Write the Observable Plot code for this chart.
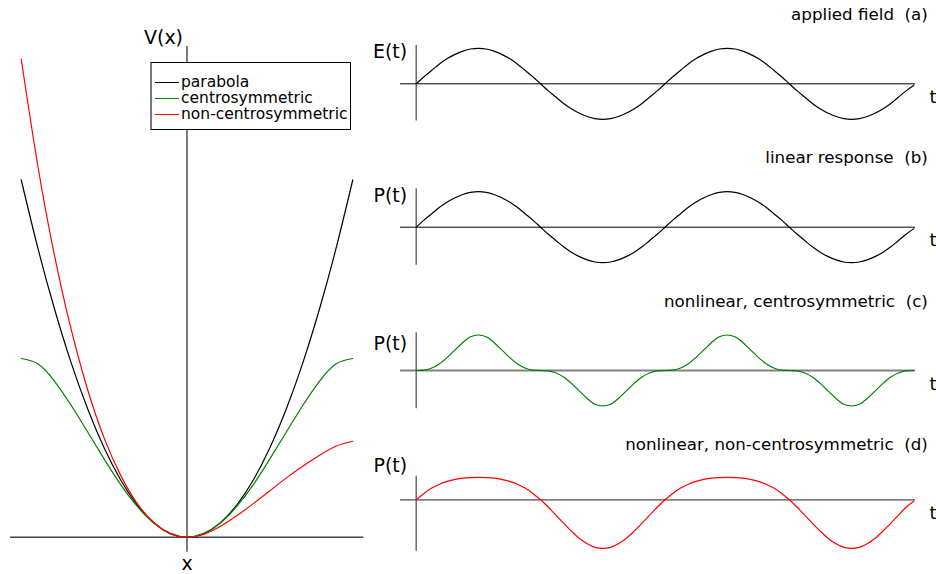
<!DOCTYPE html>
<html>
<head>
<meta charset="utf-8">
<script src="https://cdn.jsdelivr.net/npm/d3@7"></script>
<script src="https://cdn.jsdelivr.net/npm/@observablehq/plot@0.6"></script>
<style>
  html, body { margin: 0; padding: 0; background: #fff; }
  #wrap { position: relative; width: 936px; height: 574px; overflow: hidden; font-family: "DejaVu Sans", sans-serif; }
  #wrap svg { position: absolute; background: transparent; }
  .legend { position: absolute; left: 150px; top: 62px; width: 201px; height: 68px; border: 1px solid #000; border-left: 2px solid #777; background: #fff; box-sizing: border-box; }
  .legend .row { position: absolute; left: 0; height: 16px; width: 100%; }
  .legend .sw { position: absolute; left: 3px; top: 8px; width: 24px; height: 0; border-top: 1.5px solid #000; }
  .legend .lab { position: absolute; left: 29px; top: -1px; font-size: 15.5px; line-height: 18px; color: #000; white-space: nowrap; }
</style>
</head>
<body>
<div id="wrap"></div>
<script>
// ---------- Left panel: potential V(x) ----------
const xGrid = [-1, -0.9, -0.8, -0.7, -0.6, -0.5, -0.4, -0.3, -0.2, -0.1, 0, 0.1, 0.2, 0.3, 0.4, 0.5, 0.6, 0.7, 0.8, 0.9, 1];
const parabola = [1, 0.81, 0.64, 0.49, 0.36, 0.25, 0.16, 0.09, 0.04, 0.01, 0, 0.01, 0.04, 0.09, 0.16, 0.25, 0.36, 0.49, 0.64, 0.81, 1];
const centrosymmetric = [0.5, 0.485, 0.437, 0.37, 0.295, 0.219, 0.147, 0.086, 0.039, 0.01, 0, 0.01, 0.039, 0.086, 0.147, 0.219, 0.295, 0.37, 0.437, 0.485, 0.5];
const nonCentrosymmetric = [1.338, 1.04, 0.79, 0.584, 0.414, 0.278, 0.173, 0.094, 0.041, 0.01, 0, 0.008, 0.03, 0.06, 0.094, 0.13, 0.166, 0.199, 0.229, 0.255, 0.2685];
const legendLabels = ["parabola", "centrosymmetric", "non-centrosymmetric"];
const seriesColors = ["#000000", "#008000", "#ff0000"];

// ---------- Right panels: time traces, sampled every 1/32 period over two periods ----------
const samplesPerPeriod = 32;
const appliedField = [0, 0.2, 0.38, 0.56, 0.71, 0.83, 0.92, 0.98, 1, 0.98, 0.92, 0.83, 0.71, 0.56, 0.38, 0.2, 0, -0.2, -0.38, -0.56, -0.71, -0.83, -0.92, -0.98, -1, -0.98, -0.92, -0.83, -0.71, -0.56, -0.38, -0.2,
  0, 0.2, 0.38, 0.56, 0.71, 0.83, 0.92, 0.98, 1, 0.98, 0.92, 0.83, 0.71, 0.56, 0.38, 0.2, 0, -0.2, -0.38, -0.56, -0.71, -0.83, -0.92, -0.98, -1, -0.98, -0.92, -0.83, -0.71, -0.56, -0.38, -0.2, -0.04];
const linearResponse = [0, 0.2, 0.38, 0.56, 0.71, 0.83, 0.92, 0.98, 1, 0.98, 0.92, 0.83, 0.71, 0.56, 0.38, 0.2, 0, -0.2, -0.38, -0.56, -0.71, -0.83, -0.92, -0.98, -1, -0.98, -0.92, -0.83, -0.71, -0.56, -0.38, -0.2,
  0, 0.2, 0.38, 0.56, 0.71, 0.83, 0.92, 0.98, 1, 0.98, 0.92, 0.83, 0.71, 0.56, 0.38, 0.2, 0, -0.2, -0.38, -0.56, -0.71, -0.83, -0.92, -0.98, -1, -0.98, -0.92, -0.83, -0.71, -0.56, -0.38, -0.2, -0.04];
const nonlinearCentro = [0, 0.01, 0.07, 0.19, 0.37, 0.58, 0.79, 0.95, 1, 0.95, 0.79, 0.58, 0.37, 0.19, 0.07, 0.01, 0, -0.01, -0.07, -0.19, -0.37, -0.58, -0.79, -0.95, -1, -0.95, -0.79, -0.58, -0.37, -0.19, -0.07, -0.01,
  0, 0.01, 0.07, 0.19, 0.37, 0.58, 0.79, 0.95, 1, 0.95, 0.79, 0.58, 0.37, 0.19, 0.07, 0.01, 0, -0.01, -0.07, -0.19, -0.37, -0.58, -0.79, -0.95, -1, -0.95, -0.79, -0.58, -0.37, -0.19, -0.07, -0.01, 0];
const nonlinearNonCentro = [0, 0.18, 0.33, 0.44, 0.52, 0.575, 0.61, 0.625, 0.63, 0.625, 0.61, 0.575, 0.52, 0.44, 0.33, 0.18, 0, -0.21, -0.44, -0.67, -0.89, -1.09, -1.24, -1.34, -1.37, -1.34, -1.24, -1.09, -0.89, -0.67, -0.44, -0.21,
  0, 0.18, 0.33, 0.44, 0.52, 0.575, 0.61, 0.625, 0.63, 0.625, 0.61, 0.575, 0.52, 0.44, 0.33, 0.18, 0, -0.21, -0.44, -0.67, -0.89, -1.09, -1.24, -1.34, -1.37, -1.34, -1.24, -1.09, -0.89, -0.67, -0.44, -0.21, -0.04];
const panelTitles = ["applied field  (a)", "linear response  (b)", "nonlinear, centrosymmetric  (c)", "nonlinear, non-centrosymmetric  (d)"];
const panelLabels = ["E(t)", "P(t)", "P(t)", "P(t)"];

const FONT = "DejaVu Sans";
const wrap = document.getElementById("wrap");

// ---------- Build left panel ----------
{
  const rows = [];
  const seriesList = [parabola, centrosymmetric, nonCentrosymmetric];
  seriesList.forEach((vals, s) => xGrid.forEach((x, i) => rows.push({x, v: vals[i], s: legendLabels[s]})));
  const axisX = [-1.065, 1.066];
  const axisV = [-0.042, 1.373];
  const svg = Plot.plot({
    width: 380, height: 574,
    margin: 0,
    style: {fontFamily: FONT, background: "transparent", overflow: "visible"},
    x: {domain: [-1, 1], range: [20.7, 352.3], axis: null},
    y: {domain: [0, 1], range: [536.7, 179.3], axis: null},
    color: {domain: legendLabels, range: seriesColors},
    marks: [
      Plot.ruleY([0], {x1: axisX[0], x2: axisX[1], stroke: "#444", strokeWidth: 1.4}),
      Plot.ruleX([0], {y1: axisV[0], y2: axisV[1], stroke: "#444", strokeWidth: 1.4}),
      Plot.line(rows, {x: "x", y: "v", z: "s", stroke: "s", curve: "natural", strokeWidth: 1.2}),
      Plot.text([{x: 0, y: axisV[1], t: "V(x)"}], {x: "x", y: "y", text: "t", dx: -23.5, dy: -8.7, fontSize: 19, fill: "#000", textAnchor: "middle"}),
      Plot.text([{x: 0, y: axisV[0], t: "x"}], {x: "x", y: "y", text: "t", dx: 0, dy: 11.5, fontSize: 19, fill: "#000", textAnchor: "middle"})
    ]
  });
  svg.style.left = "0px"; svg.style.top = "0px";
  wrap.appendChild(svg);

  const leg = document.createElement("div");
  leg.className = "legend";
  legendLabels.forEach((lab, i) => {
    const r = document.createElement("div");
    r.className = "row";
    r.style.top = (10.5 + i * 16.4) + "px";
    r.innerHTML = `<div class="sw" style="border-top-color:${seriesColors[i]}"></div><div class="lab">${lab}</div>`;
    leg.appendChild(r);
  });
  wrap.appendChild(leg);
}

// ---------- Build right panels ----------
const panelSpecs = [
  {vals: appliedField, color: "#000", top: 0, axisY: 83.3, vRange: [-1.05, 1.08], hStroke: "#000", hWidth: 1, labelDy: -32.3, titleDy: -64.3},
  {vals: linearResponse, color: "#000", top: 143, axisY: 83.7, vRange: [-1.07, 1.08], hStroke: "#000", hWidth: 1, labelDy: -31.2, titleDy: -64.2},
  {vals: nonlinearCentro, color: "#008000", top: 286, axisY: 84, vRange: [-1.08, 1.06], hStroke: "#808080", hWidth: 1.8, labelDy: -26.8, titleDy: -64},
  {vals: nonlinearNonCentro, color: "#ff0000", top: 430, axisY: 69.3, vRange: [-1.45, 0.66], hStroke: "#808080", hWidth: 1.8, labelDy: -34.3, titleDy: -50.3}
];

panelSpecs.forEach((p, k) => {
  const data = p.vals.map((v, i) => ({t: i / samplesPerPeriod, v}));
  const tAxis = [-0.063, 2.007];
  const svg = Plot.plot({
    width: 556, height: 144,
    margin: 0,
    style: {fontFamily: FONT, background: "transparent", overflow: "visible"},
    x: {domain: [0, 2], range: [35.7, 533.3], axis: null},
    y: {domain: [-1, 1], range: [p.axisY + 35.5, p.axisY - 35.5], axis: null},
    marks: [
      Plot.ruleY([0], {x1: tAxis[0], x2: tAxis[1], stroke: p.hStroke, strokeWidth: p.hWidth}),
      Plot.ruleX([0], {y1: p.vRange[0], y2: p.vRange[1], stroke: "#555", strokeWidth: 1.3}),
      Plot.line(data, {x: "t", y: "v", stroke: p.color, curve: "monotone-x", strokeWidth: 1.2}),
      Plot.text([{x: 0, y: 0, s: panelLabels[k]}], {x: "x", y: "y", text: "s", dx: -9, dy: p.labelDy, fontSize: 19, fill: "#000", textAnchor: "end"}),
      Plot.text([{x: tAxis[1], y: 0, s: "t"}], {x: "x", y: "y", text: "s", dx: 17.5, dy: 13.5, fontSize: 18, fill: "#000", textAnchor: "middle"}),
      Plot.text([{x: tAxis[1], y: 0, s: panelTitles[k]}], {x: "x", y: "y", text: "s", dx: 12.3, dy: p.titleDy, fontSize: 16.7, fill: "#000", textAnchor: "end", lineAnchor: "bottom"})
    ]
  });
  svg.style.left = "380px"; svg.style.top = p.top + "px";
  wrap.appendChild(svg);
});
</script>
</body>
</html>
